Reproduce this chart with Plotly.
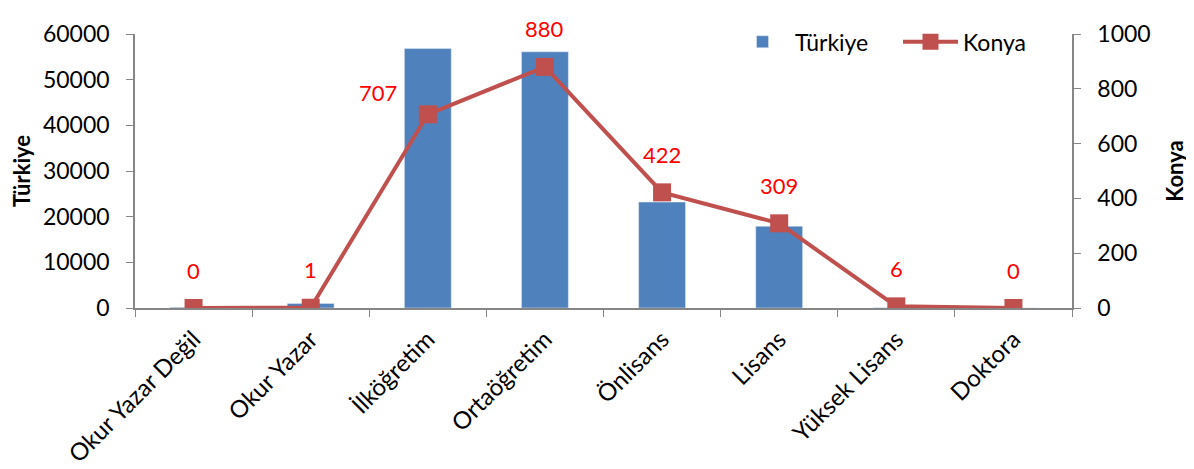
import plotly.graph_objects as go

categories = ["Okur Yazar Değil", "Okur Yazar", "İlköğretim", "Ortaöğretim",
              "Önlisans", "Lisans", "Yüksek Lisans", "Doktora"]
turkiye = [150, 1000, 56800, 56100, 23200, 17900, 60, 10]
konya = [0, 1, 707, 880, 422, 309, 6, 0]

BLUE = "#4F81BD"
RED = "#C0504D"
FONT = "Lato"

fig = go.Figure()
fig.add_trace(go.Bar(x=categories, y=turkiye, name="Türkiye", marker_color=BLUE,
                     width=0.4, yaxis="y"))
fig.add_trace(go.Scatter(x=categories, y=konya, name="Konya", mode="lines+markers",
                         line=dict(color=RED, width=4),
                         marker=dict(symbol="square", size=18, color=RED),
                         yaxis="y2"))

for i, (c, v) in enumerate(zip(categories, konya)):
    if c == "İlköğretim":
        xs, ys = -50, 22
    else:
        xs, ys = 0, 38
    fig.add_annotation(x=c, y=v, yref="y2", text=str(v), showarrow=False,
                       xshift=xs, yshift=ys, font=dict(color="#FF0000", size=22, family=FONT))

fig.update_layout(
    width=1186, height=461,
    margin=dict(l=127, r=122, t=15, b=161),
    plot_bgcolor="white", paper_bgcolor="white",
    font=dict(family=FONT, size=23, color="black"),
    bargap=0.6,
    xaxis=dict(type="category", showline=True, linecolor="#868686", linewidth=1.5,
               ticks="outside", tickson="boundaries", ticklen=7, tickcolor="#868686",
               tickangle=-45, tickfont=dict(size=24), automargin=False,
               ticklabelstandoff=6),
    yaxis=dict(range=[0, 60000], dtick=10000, tickformat="d", showgrid=False, showline=True,
               linecolor="#868686", linewidth=1.5, ticks="outside", ticklen=7,
               tickcolor="#868686", zeroline=False, automargin=False,
               ticklabelstandoff=12,
               title=dict(text="<b>Türkiye</b>", font=dict(size=22), standoff=12)),
    yaxis2=dict(range=[0, 1000], dtick=200, overlaying="y", side="right",
                showgrid=False, showline=True, linecolor="#868686", linewidth=1.5,
                ticks="outside", ticklen=7, tickcolor="#868686", zeroline=False,
                automargin=False, ticklabelstandoff=12,
                title=dict(text="<b>Konya</b>", font=dict(size=22), standoff=18)),
    legend=dict(orientation="h", x=0.9936, xanchor="right", y=1.05, yanchor="top",
                itemwidth=55, entrywidth=98, entrywidthmode="pixels",
                bgcolor="rgba(0,0,0,0)", font=dict(size=23)),
    showlegend=True,
)

fig.write_html("out.html")
